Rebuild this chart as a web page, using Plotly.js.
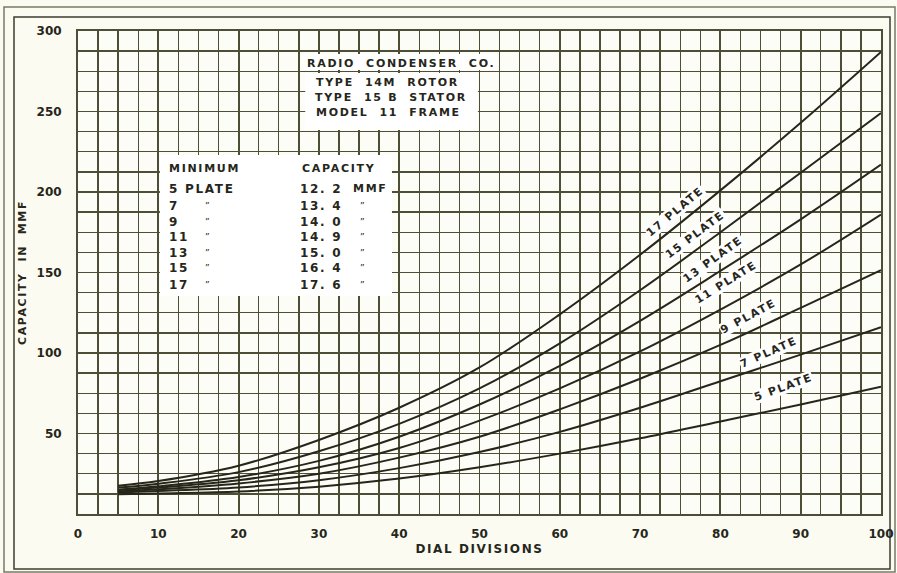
<!DOCTYPE html>
<html>
<head>
<meta charset="utf-8">
<script src="https://cdn.plot.ly/plotly-3.0.1.min.js"></script>
<style>
html,body{margin:0;padding:0;background:#fbfbf2;}
#chart{width:897px;height:573px;}
text.annotation-text{letter-spacing:1.7px;}
text.xtitle, text.ytitle{letter-spacing:1.6px;}
</style>
</head>
<body>
<div id="chart"></div>
<script>
// Dial divisions where curves were read
const dialDivisions = [5, 10, 20, 30, 40, 50, 60, 70, 80, 90, 100];
// Capacity (MMF) per plate count
const plate5  = [12.2, 12.8, 14.0, 17.0, 22.0, 29.0, 37.5, 47, 57.5, 68, 79];
const plate7  = [13.4, 14.3, 16.5, 21.0, 28.5, 38.5, 51, 66, 82.5, 99, 116];
const plate9  = [14.0, 15.3, 19.0, 25.0, 35.0, 48.0, 65, 84, 105, 128, 151.5];
const plate11 = [14.9, 16.4, 21.0, 29.0, 41.0, 58.0, 78, 101, 127, 155, 186];
const plate13 = [15.0, 17.2, 23.0, 33.0, 48.0, 68.0, 92, 120, 151, 183, 217];
const plate15 = [16.4, 18.8, 26.0, 39.0, 56.0, 78.0, 106, 139, 175, 212, 249];
const plate17 = [17.6, 20.5, 30.0, 46.0, 66.0, 91.0, 124, 161, 201, 243, 287];

const seriesNames = ["5 PLATE", "7 PLATE", "9 PLATE", "11 PLATE", "13 PLATE", "15 PLATE", "17 PLATE"];
const seriesValues = [plate5, plate7, plate9, plate11, plate13, plate15, plate17];

// Table of minimum capacities
const tablePlates = ["5 PLATE", "7", "9", "11", "13", "15", "17"];
const tableCaps = ["12. 2", "13. 4", "14. 0", "14. 9", "15. 0", "16. 4", "17. 6"];

const headerLines = ["RADIO  CONDENSER  CO.", "TYPE  14M  ROTOR", "TYPE  15 B  STATOR", "MODEL  11  FRAME"];

const xTicks = [0,10,20,30,40,50,60,70,80,90,100];
const yTicks = [50,100,150,200,250,300];

const ink = "#26261a";
const gridCol = "#4e4e36";
const FONT = "DejaVu Sans";

const traces = seriesValues.map((v, i) => ({
  type: "scatter", mode: "lines", name: seriesNames[i],
  x: dialDivisions, y: v,
  line: {color: ink, width: 2, shape: "spline", smoothing: 1},
  hoverinfo: "skip", showlegend: false
}));

// curve label placement (data coords) and angle
const labelPos = [
  {x: 87.8, y: 78.3, a: -20},
  {x: 86.0, y: 100.6, a: -24},
  {x: 83.5, y: 122.4, a: -28},
  {x: 80.7, y: 143.5, a: -32},
  {x: 79.1, y: 157.8, a: -36},
  {x: 76.9, y: 173.3, a: -37},
  {x: 74.4, y: 187.6, a: -40}
];

const annotations = [];
labelPos.forEach((p, i) => {
  annotations.push({
    xref: "x", yref: "y", x: p.x, y: p.y, text: "<b>" + seriesNames[i] + "</b>",
    showarrow: false, textangle: p.a, bgcolor: "#ffffff", borderpad: 0,
    font: {family: FONT, size: 11, color: ink}
  });
});

const headerY = [280.1, 268.3, 259.0, 249.1];
const headerX = [40.2, 38.6, 39.0, 38.7];
headerLines.forEach((t, i) => {
  annotations.push({
    xref: "x", yref: "y", x: headerX[i], y: headerY[i], text: "<b>" + t + "</b>",
    showarrow: false, xanchor: "center", yanchor: "middle",
    font: {family: FONT, size: 11, color: ink}
  });
});

// table
const tf = {family: FONT, size: 12, color: ink};
annotations.push({xref:"x", yref:"y", x: 11.1, y: 214.9, text: "<b>MINIMUM</b>", showarrow:false, xanchor:"left", yanchor:"middle", font:{family:FONT,size:11,color:ink}});
annotations.push({xref:"x", yref:"y", x: 27.6, y: 214.9, text: "<b>CAPACITY</b>", showarrow:false, xanchor:"left", yanchor:"middle", font:{family:FONT,size:11,color:ink}});
const rowY = [201.9, 191.3, 181.4, 172.0, 162.1, 152.8, 142.2];
tablePlates.forEach((t, i) => {
  annotations.push({xref:"x", yref:"y", x: 11.1, y: rowY[i], text: "<b>" + t + "</b>", showarrow:false, xanchor:"left", yanchor:"middle", font:tf});
  annotations.push({xref:"x", yref:"y", x: 27.4, y: rowY[i], text: "<b>" + tableCaps[i] + "</b>", showarrow:false, xanchor:"left", yanchor:"middle", font:tf});
  if (i === 0) {
    annotations.push({xref:"x", yref:"y", x: 34.0, y: rowY[i], text: "<b>MMF</b>", showarrow:false, xanchor:"left", yanchor:"middle", font:{family:FONT,size:11,color:ink}});
  } else {
    annotations.push({xref:"x", yref:"y", x: 16.2, y: rowY[i], text: "\u201D", showarrow:false, xanchor:"center", yanchor:"middle", font:{family:FONT,size:9,color:ink}});
    annotations.push({xref:"x", yref:"y", x: 35.5, y: rowY[i], text: "\u201D", showarrow:false, xanchor:"center", yanchor:"middle", font:{family:FONT,size:9,color:ink}});
  }
});

const shapes = [
  // white panels over grid
  {type:"rect", xref:"x", yref:"y", x0: 27.8, x1: 52.3, y0: 275.8, y1: 285.7, fillcolor:"#ffffff", line:{width:0}, layer:"above"},
  {type:"rect", xref:"x", yref:"y", x0: 28.3, x1: 49.8, y0: 238.5, y1: 273.9, fillcolor:"#ffffff", line:{width:0}, layer:"above"},
  {type:"rect", xref:"x", yref:"y", x0: 10.2, x1: 39.1, y0: 135.4, y1: 223.0, fillcolor:"#ffffff", line:{width:0}, layer:"above"},
  // double frame round the sheet (paper coords relative to plot area)
  {type:"rect", xref:"paper", yref:"paper",
   x0: (4-78)/803, x1: (895-78)/803, y0: (514-572)/483, y1: (514-7)/483,
   line:{color:"#7a7a68", width:1.5}, fillcolor:"rgba(0,0,0,0)", layer:"below"},
  {type:"rect", xref:"paper", yref:"paper",
   x0: (14-78)/803, x1: (890-78)/803, y0: (514-569)/483, y1: (514-17)/483,
   line:{color:"#3e3e2e", width:1.5}, fillcolor:"rgba(0,0,0,0)", layer:"below"}
];

const layout = {
  width: 897, height: 573,
  margin: {l: 78, r: 16, t: 31, b: 59},
  paper_bgcolor: "#fbfbf2", plot_bgcolor: "#fdfdf7",
  showlegend: false,
  font: {family: FONT, color: ink},
  xaxis: {
    range: [0, 100], tickvals: xTicks, ticktext: xTicks.map(v => "<b>" + v + "</b>"),
    showgrid: true, gridcolor: gridCol, gridwidth: 1.9,
    minor: {dtick: 2.5, showgrid: true, gridcolor: gridCol, gridwidth: 1.4},
    zeroline: false, showline: true, linecolor: gridCol, linewidth: 2, mirror: true,
    ticks: "outside", ticklen: 8, tickcolor: "rgba(0,0,0,0)",
    tickfont: {family: FONT, size: 12, color: ink},
    title: {text: "<b>DIAL DIVISIONS</b>", font: {family: FONT, size: 12, color: ink}, standoff: 4},
    fixedrange: true
  },
  yaxis: {
    range: [0, 300], tickvals: yTicks, ticktext: yTicks.map(v => "<b>" + v + "</b>"),
    showgrid: true, gridcolor: gridCol, gridwidth: 1.9,
    minor: {dtick: 12.5, showgrid: true, gridcolor: gridCol, gridwidth: 1.4},
    zeroline: false, showline: true, linecolor: gridCol, linewidth: 2, mirror: true,
    ticks: "outside", ticklen: 12, tickcolor: "rgba(0,0,0,0)",
    tickfont: {family: FONT, size: 12, color: ink},
    title: {text: "<b>CAPACITY  IN  MMF</b>", font: {family: FONT, size: 11, color: ink}, standoff: 8},
    fixedrange: true
  },
  shapes: shapes,
  annotations: annotations
};

Plotly.newPlot("chart", traces, layout, {staticPlot: true, displayModeBar: false});
</script>
</body>
</html>
